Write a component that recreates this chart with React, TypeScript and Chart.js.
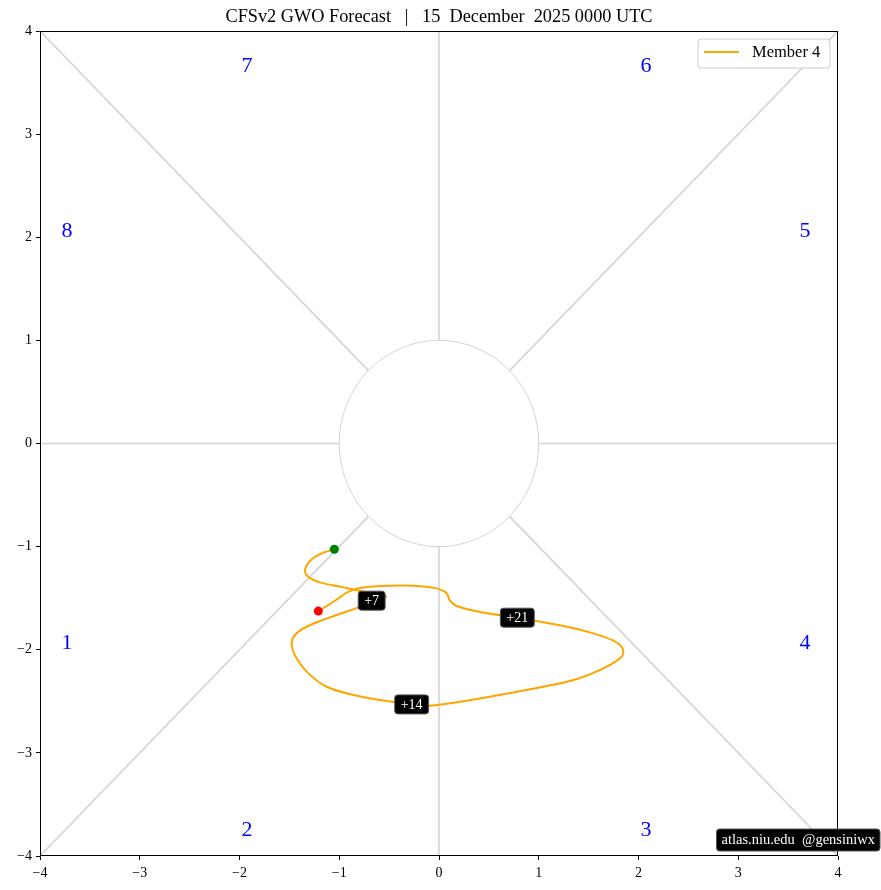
import React, { useEffect, useRef } from "react";
import { Chart, registerables } from "chart.js";
Chart.register(...registerables);

const FONT = '"Liberation Serif", "DejaVu Serif", serif';

const titleText = "CFSv2 GWO Forecast   |   15  December  2025 0000 UTC";
const memberLabel = "Member 4";
const watermark = "atlas.niu.edu  @gensiniwx";

const trackX = [
  -1.049, -1.16, -1.277, -1.34, -1.32, -1.193, -0.959, -0.759, -0.591, -0.531,
  -0.675, -0.809, -1.093, -1.327, -1.444, -1.477, -1.427, -1.31, -1.126, -0.859,
  -0.591, -0.274, -0.09, 0.411, 0.912, 1.347, 1.647, 1.831, 1.841, 1.748,
  1.547, 1.246, 0.785, 0.411, 0.177, 0.11, 0.077, -0.023, -0.257, -0.591,
  -0.825, -0.926, -1.009, -1.109, -1.21,
];
const trackY = [
  -1.026, -1.059, -1.124, -1.211, -1.285, -1.347, -1.395, -1.437, -1.469, -1.486,
  -1.524, -1.589, -1.686, -1.777, -1.857, -1.954, -2.084, -2.229, -2.359, -2.439,
  -2.488, -2.53, -2.543, -2.472, -2.384, -2.294, -2.181, -2.068, -1.987, -1.912,
  -1.841, -1.77, -1.689, -1.634, -1.576, -1.524, -1.453, -1.405, -1.379, -1.382,
  -1.408, -1.447, -1.502, -1.566, -1.625,
];

const startPoint = [-1.049, -1.026];
const endPoint = [-1.21, -1.625];

const dayLabels = ["+7", "+14", "+21"];
const dayLabelX = [-0.675, -0.274, 0.785];
const dayLabelY = [-1.524, -2.53, -1.689];

const phaseLabels = ["1", "2", "3", "4", "5", "6", "7", "8"];
const phaseX = [-3.73, -1.925, 2.075, 3.67, 3.67, 2.075, -1.925, -3.73];
const phaseY = [-1.93, -3.74, -3.74, -1.93, 2.07, 3.67, 3.67, 2.07];

const axisTicks = [-4, -3, -2, -1, 0, 1, 2, 3, 4];
const axisMin = -4;
const axisMax = 4;

function fmt(v: number) {
  return v < 0 ? "\u2212" + Math.abs(v) : String(v);
}

function roundRect(ctx: CanvasRenderingContext2D, x: number, y: number, w: number, h: number, r: number) {
  ctx.beginPath();
  ctx.moveTo(x + r, y);
  ctx.lineTo(x + w - r, y);
  ctx.quadraticCurveTo(x + w, y, x + w, y + r);
  ctx.lineTo(x + w, y + h - r);
  ctx.quadraticCurveTo(x + w, y + h, x + w - r, y + h);
  ctx.lineTo(x + r, y + h);
  ctx.quadraticCurveTo(x, y + h, x, y + h - r);
  ctx.lineTo(x, y + r);
  ctx.quadraticCurveTo(x, y, x + r, y);
  ctx.closePath();
}

const backgroundPlugin = {
  id: "gwoBackground",
  beforeDatasetsDraw(chart: any) {
    const { ctx, scales } = chart;
    const sx = scales.x, sy = scales.y;
    const px = (v: number) => sx.getPixelForValue(v);
    const py = (v: number) => sy.getPixelForValue(v);
    ctx.save();
    ctx.strokeStyle = "#d3d3d3";
    ctx.lineWidth = 1.6;
    const d = Math.SQRT1_2;
    const segs = [
      [1, 0, 4, 0], [-1, 0, -4, 0], [0, 1, 0, 4], [0, -1, 0, -4],
      [d, d, 4, 4], [-d, d, -4, 4], [d, -d, 4, -4], [-d, -d, -4, -4],
    ];
    for (const s of segs) {
      ctx.beginPath();
      ctx.moveTo(px(s[0]), py(s[1]));
      ctx.lineTo(px(s[2]), py(s[3]));
      ctx.stroke();
    }
    ctx.lineWidth = 1;
    ctx.beginPath();
    const cx = px(0), cy = py(0);
    const rx = px(1) - cx, ry = cy - py(1);
    ctx.ellipse(cx, cy, rx, ry, 0, 0, Math.PI * 2);
    ctx.stroke();
    ctx.fillStyle = "blue";
    ctx.font = "22px " + FONT;
    ctx.textAlign = "center";
    ctx.textBaseline = "middle";
    phaseLabels.forEach((t, i) => ctx.fillText(t, px(phaseX[i]), py(phaseY[i]) + 1));
    ctx.restore();
  },
  afterDatasetsDraw(chart: any) {
    const { ctx, scales } = chart;
    const sx = scales.x, sy = scales.y;
    ctx.save();
    ctx.font = "14px " + FONT;
    ctx.textAlign = "center";
    ctx.textBaseline = "middle";
    dayLabels.forEach((t, i) => {
      const x = sx.getPixelForValue(dayLabelX[i]);
      const y = sy.getPixelForValue(dayLabelY[i]);
      const w = ctx.measureText(t).width + 12;
      const h = 19;
      roundRect(ctx, x - w / 2, y - h / 2, w, h, 3);
      ctx.fillStyle = "#000";
      ctx.fill();
      ctx.strokeStyle = "#555";
      ctx.lineWidth = 1;
      ctx.stroke();
      ctx.fillStyle = "#fff";
      ctx.fillText(t, x, y + 0.5);
    });
    ctx.restore();
  },
  afterDraw(chart: any) {
    const { ctx, chartArea } = chart;
    const { left, right, top, bottom } = chartArea;
    ctx.save();
    // frame
    ctx.strokeStyle = "#000";
    ctx.lineWidth = 1;
    ctx.strokeRect(left + 0.5, top + 0.5, right - left - 1, bottom - top - 1);
    // title
    ctx.fillStyle = "#000";
    ctx.font = "18.3px " + FONT;
    ctx.textAlign = "center";
    ctx.textBaseline = "middle";
    ctx.fillText(titleText, (left + right) / 2, 17);
    // legend
    roundRect(ctx, right - 140, top + 8, 132, 29, 3);
    ctx.fillStyle = "rgba(255,255,255,0.9)";
    ctx.fill();
    ctx.strokeStyle = "#cccccc";
    ctx.stroke();
    ctx.strokeStyle = "orange";
    ctx.lineWidth = 2;
    ctx.beginPath();
    ctx.moveTo(right - 134, top + 21);
    ctx.lineTo(right - 99, top + 21);
    ctx.stroke();
    ctx.fillStyle = "#000";
    ctx.font = "16.5px " + FONT;
    ctx.textAlign = "left";
    ctx.fillText(memberLabel, right - 86, top + 21.5);
    // watermark
    ctx.font = "14.5px " + FONT;
    const ww = ctx.measureText(watermark).width + 10;
    const wx = 880 - ww;
    roundRect(ctx, wx, 829, ww, 22, 3);
    ctx.fillStyle = "#000";
    ctx.fill();
    ctx.strokeStyle = "#555";
    ctx.lineWidth = 1;
    ctx.stroke();
    ctx.fillStyle = "#fff";
    ctx.textAlign = "center";
    ctx.fillText(watermark, wx + ww / 2, 840.5);
    ctx.restore();
  },
};

export default function App() {
  const ref = useRef<HTMLCanvasElement | null>(null);
  useEffect(() => {
    document.body.style.margin = "0";
    const canvas = ref.current;
    if (!canvas) return;
    const track = trackX.map((x, i) => ({ x, y: trackY[i] }));
    const chart = new Chart(canvas, {
      type: "scatter",
      data: {
        datasets: [
          {
            label: memberLabel,
            data: track,
            showLine: true,
            borderColor: "orange",
            backgroundColor: "orange",
            borderWidth: 2,
            pointRadius: 0,
            tension: 0.35,
            order: 3,
          },
          {
            label: "start",
            data: [{ x: startPoint[0], y: startPoint[1] }],
            pointRadius: 4.5,
            pointBorderWidth: 0,
            backgroundColor: "green",
            borderColor: "green",
            order: 1,
          },
          {
            label: "end",
            data: [{ x: endPoint[0], y: endPoint[1] }],
            pointRadius: 4.5,
            pointBorderWidth: 0,
            backgroundColor: "red",
            borderColor: "red",
            order: 1,
          },
        ],
      },
      options: {
        animation: false,
        responsive: false,
        devicePixelRatio: 1,
        layout: { padding: { top: 31, right: 43, left: 0, bottom: 0 } },
        plugins: {
          legend: { display: false },
          tooltip: { enabled: false },
          title: { display: false },
        },
        scales: {
          x: {
            type: "linear",
            min: axisMin,
            max: axisMax,
            afterFit: (s: any) => { s.height = 34; },
            afterBuildTicks: (s: any) => {
              s.ticks = axisTicks.map((v) => ({ value: v }));
            },
            grid: { drawOnChartArea: false, drawTicks: true, tickLength: 4, color: "#000" },
            border: { display: false },
            ticks: {
              color: "#000",
              font: { family: FONT, size: 14 },
              padding: 5,
              maxRotation: 0,
              callback: (v: any) => fmt(Number(v)),
            },
          },
          y: {
            type: "linear",
            min: axisMin,
            max: axisMax,
            afterFit: (s: any) => { s.width = 40; },
            afterBuildTicks: (s: any) => {
              s.ticks = axisTicks.map((v) => ({ value: v }));
            },
            grid: { drawOnChartArea: false, drawTicks: true, tickLength: 4, color: "#000" },
            border: { display: false },
            ticks: {
              color: "#000",
              font: { family: FONT, size: 14 },
              padding: 4,
              callback: (v: any) => fmt(Number(v)),
            },
          },
        },
      },
      plugins: [backgroundPlugin],
    } as any);
    return () => chart.destroy();
  }, []);
  return <canvas ref={ref} width={881} height={890} style={{ display: "block" }} />;
}
